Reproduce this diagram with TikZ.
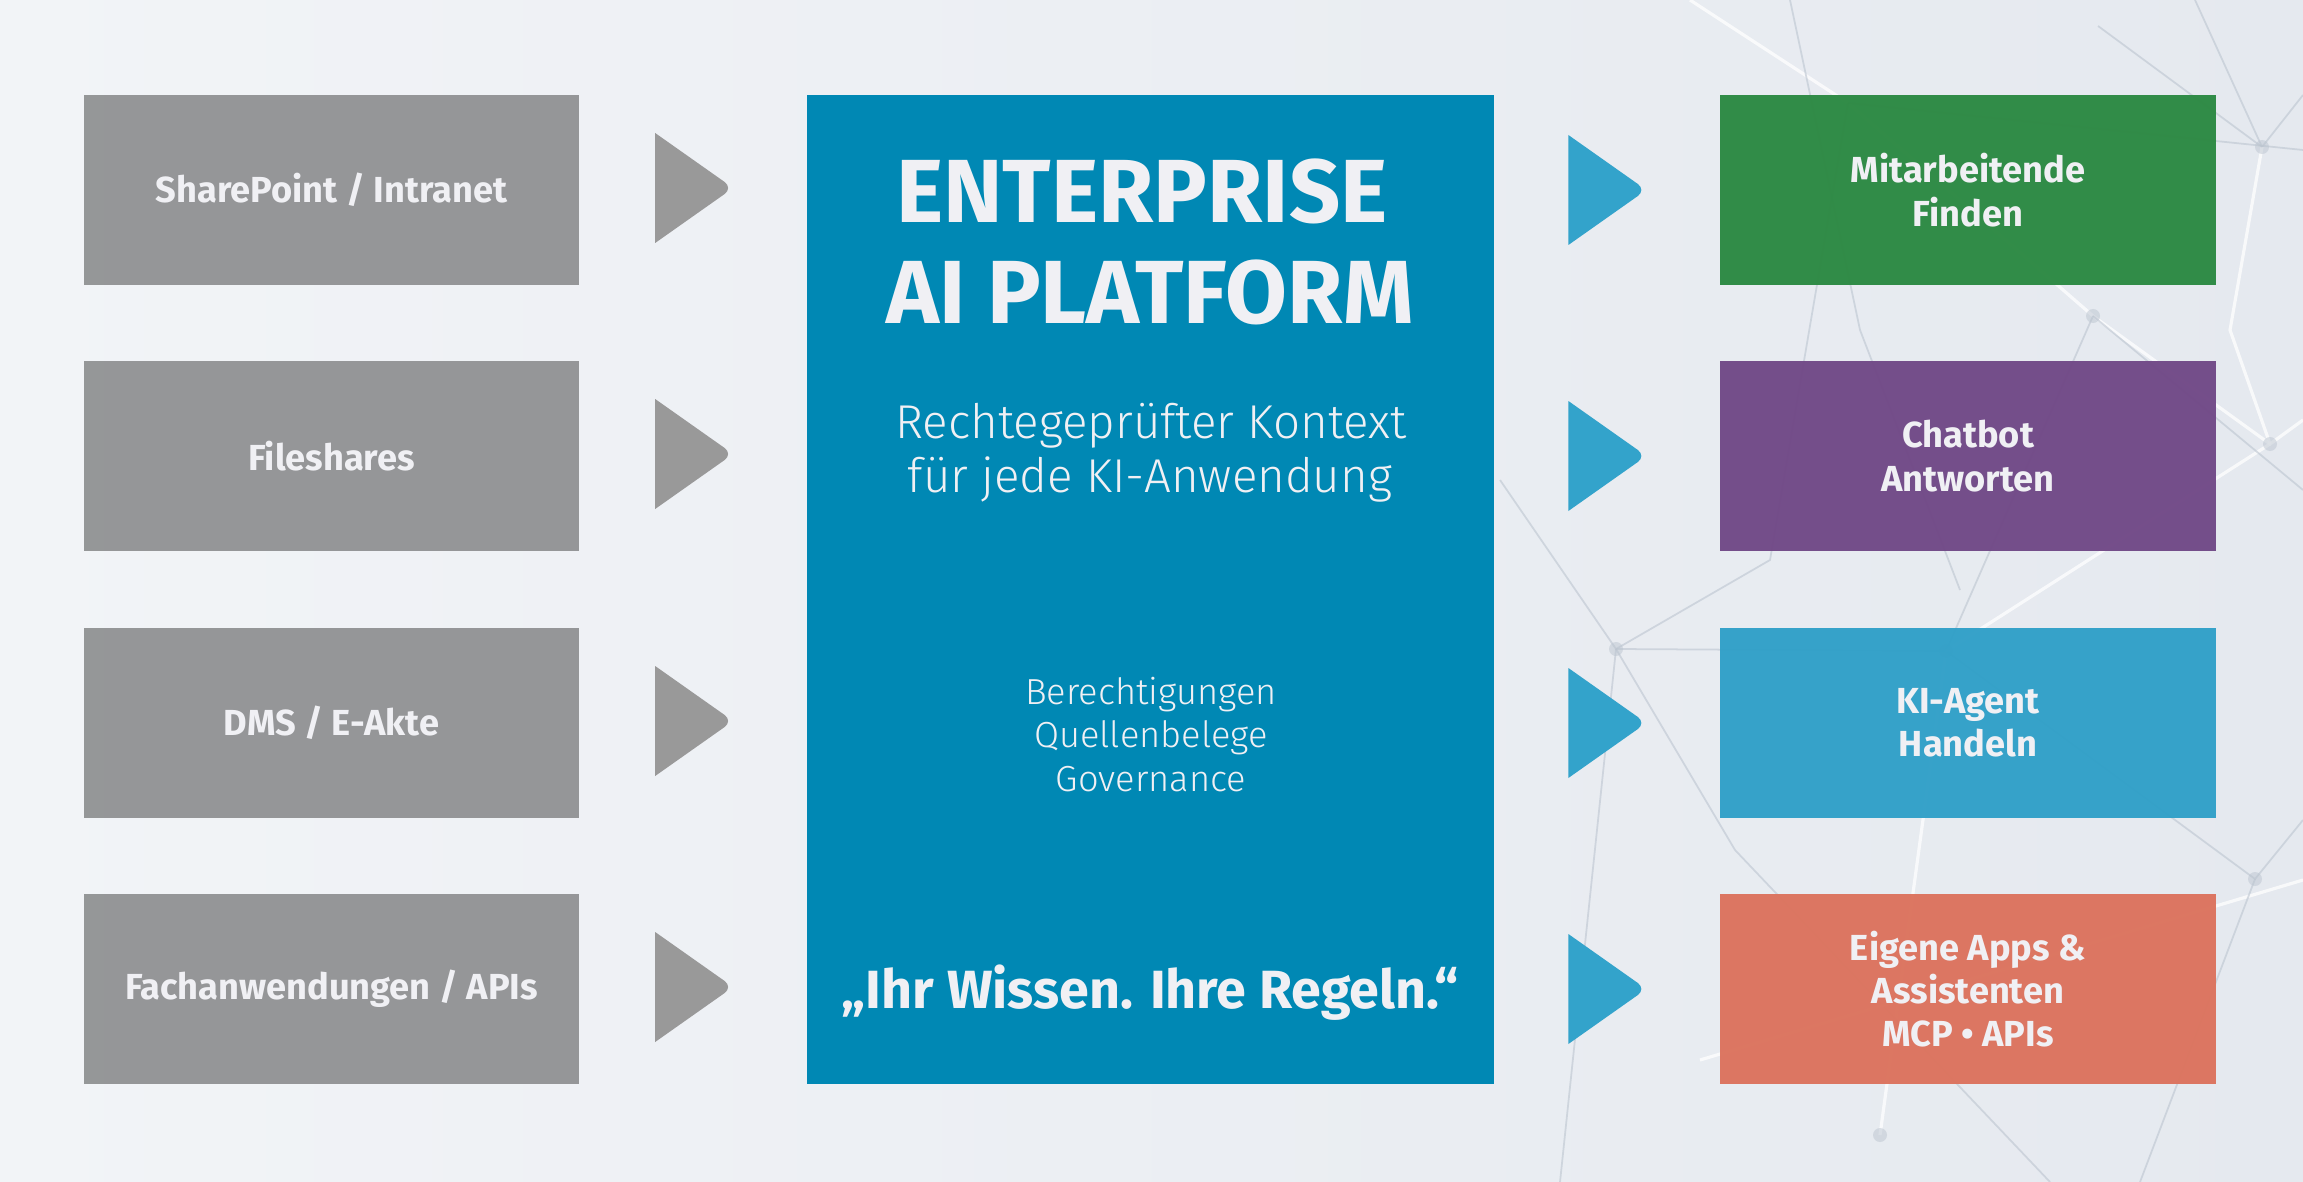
\documentclass[tikz,border=0pt]{standalone}
\usepackage{fontspec}
\setmainfont{Fira Sans}
\newfontfamily\lightfont{Fira Sans Light}
\usetikzlibrary{calc}
\definecolor{bgA}{HTML}{F2F4F7}
\definecolor{bgB}{HTML}{E5E9EF}
\definecolor{graybox}{HTML}{939495}
\definecolor{graytri}{HTML}{999999}
\definecolor{platform}{HTML}{0088B4}
\definecolor{greenbox}{HTML}{2C8943}
\definecolor{purplebox}{HTML}{714987}
\definecolor{bluebox}{HTML}{31A0C8}
\definecolor{orangebox}{HTML}{DC735E}
\definecolor{bluetri}{HTML}{33A3CB}
\definecolor{txt}{HTML}{F0F0F4}
\definecolor{netline}{HTML}{BCC5D0}
\begin{document}
\begin{tikzpicture}[x=0.01cm,y=-0.01cm,
  box/.style={rectangle,inner sep=0pt,outer sep=0pt,minimum width=4.95cm,minimum height=1.9cm,
    text=txt,align=center,font=\fontsize{10.3}{12.3}\selectfont\bfseries,fill opacity=0.97,text opacity=1},
  srcbox/.style={box,fill=graybox},
  net/.style={draw=netline,line width=0.5pt,opacity=0.6},
  netw/.style={draw=white,line width=0.9pt,opacity=0.75},
  dot/.style={circle,fill=netline,inner sep=0pt,minimum size=0.14cm,opacity=0.5}]
% background
\shade[left color=bgA,right color=bgB] (0,0) rectangle (2303,1182);
\useasboundingbox (0,0) rectangle (2303,1182);
% network decoration
\coordinate (n1) at (1848,103);
\coordinate (n2) at (2093,316);
\coordinate (n3) at (2270,444);
\coordinate (n4) at (1616,649);
\coordinate (n5) at (1946,651);
\coordinate (n6) at (2255,879);
\coordinate (n7) at (2098,26);
\coordinate (n8) at (1880,1135);
\coordinate (n9) at (1500,480);
\coordinate (n10) at (2262,147);
\draw[netw] (1690,0) -- (n1) -- (n2) -- (n3) -- (2303,420);
\draw[net] (n1) -- (2303,150);
\draw[net] (n2) -- (n5) -- (n4) -- (n9);
\draw[netw] (n5) -- (n8);
\draw[net] (n4) -- (1735,850) -- (2050,1182);
\draw[net] (n5) -- (n6) -- (2303,820);
\draw[netw] (n3) -- (n5);
\draw[net] (n7) -- (n10) -- (2303,95);
\draw[netw] (n10) -- (2230,330) -- (n3);
\draw[net] (1790,0) -- (1860,330) -- (1960,590);
\draw[net] (n2) -- (2303,490);
\draw[net] (n4) -- (1560,1182);
\draw[net] (2195,0) -- (n10);
\draw[net] (n1) -- (1770,560) -- (n4);
\draw[netw] (1700,1060) -- (2303,880);
\draw[net] (n6) -- (2140,1182);
\foreach \n in {n2,n3,n4,n5,n6,n8,n10} \node[dot] at (\n) {};
% central platform
\node[rectangle,fill=platform,inner sep=0pt,minimum width=6.87cm,minimum height=9.89cm] (core) at (1150.5,589.5) {};
\node[anchor=base,text=txt,font=\fontsize{25.5}{28}\selectfont\bfseries] (t1) at (1142,222) {ENTERPRISE};
\node[anchor=base,text=txt,font=\fontsize{25.5}{28}\selectfont\bfseries] (t2) at (1150,323) {AI PLATFORM};
\node[anchor=base,text=txt,font=\lightfont\fontsize{13.5}{15}\selectfont] (t3) at (1151,438) {Rechtegeprüfter Kontext};
\node[anchor=base,text=txt,font=\lightfont\fontsize{13.5}{15}\selectfont] (t4) at (1150,492) {für jede KI-Anwendung};
\node[anchor=base,text=txt,font=\lightfont\fontsize{10.3}{12}\selectfont] (t5) at (1151,704) {Berechtigungen};
\node[anchor=base,text=txt,font=\lightfont\fontsize{10.3}{12}\selectfont] (t6) at (1151,747) {Quellenbelege};
\node[anchor=base,text=txt,font=\lightfont\fontsize{10.3}{12}\selectfont] (t7) at (1151,791) {Governance};
\node[anchor=base,text=txt,font=\fontsize{15.3}{17}\selectfont\bfseries] (t8) at (1150,1008) {„Ihr Wissen. Ihre Regeln.“};
% sources
\node[srcbox] (s1) at (331.5,190) {SharePoint / Intranet};
\node[srcbox] (s2) at (331.5,456) {Fileshares};
\node[srcbox] (s3) at (331.5,723) {DMS / E-Akte};
\node[srcbox] (s4) at (331.5,989) {Fachanwendungen / APIs};
% outputs
\node[box,fill=greenbox] (o1) at (1968,190) {Mitarbeitende\\Finden};
\node[box,fill=purplebox] (o2) at (1968,456) {Chatbot\\Antworten};
\node[box,fill=bluebox] (o3) at (1968,723) {KI-Agent\\Handeln};
\node[box,fill=orangebox] (o4) at (1968,989) {Eigene Apps \&\\Assistenten\\MCP • APIs};
% arrows (triangles)
\foreach \s in {s1,s2,s3,s4}{
  \fill[graytri] ($(\s.east)+(76,-57)$) [rounded corners=3pt] -- ($(\s.east)+(154,-2)$) [sharp corners] -- ($(\s.east)+(76,53)$) -- cycle;
}
\foreach \o in {o1,o2,o3,o4}{
  \fill[bluetri] ($(\o.west)+(-152,-55)$) [rounded corners=3pt] -- ($(\o.west)+(-74,0)$) [sharp corners] -- ($(\o.west)+(-152,55)$) -- cycle;
}
\end{tikzpicture}
\end{document}
